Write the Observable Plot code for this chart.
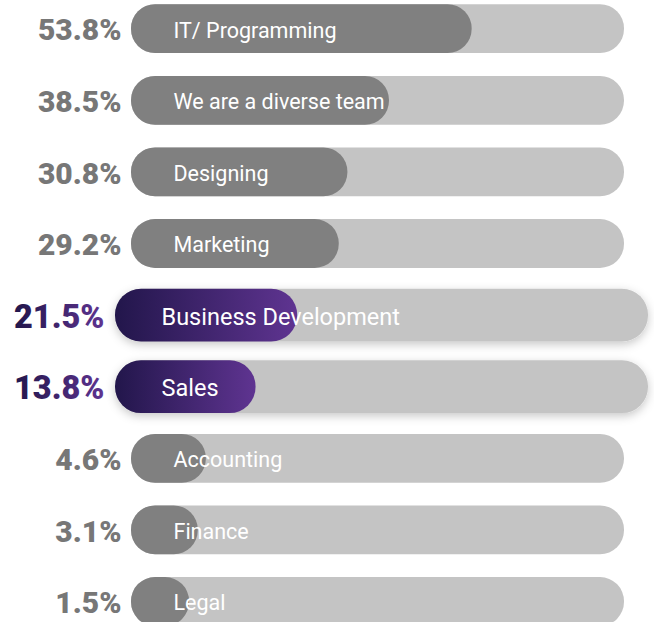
<!DOCTYPE html>
<html>
<head>
<meta charset="utf-8">
<script src="https://cdn.jsdelivr.net/npm/d3@7"></script>
<script src="https://cdn.jsdelivr.net/npm/@observablehq/plot@0.6"></script>
<style>
  html, body { margin: 0; padding: 0; background: #fff; }
</style>
</head>
<body>
<div id="chart"></div>
<script>
const categories = ["IT/ Programming", "We are a diverse team", "Designing", "Marketing", "Business Development", "Sales", "Accounting", "Finance", "Legal"];
const values = [53.8, 38.5, 30.8, 29.2, 21.5, 13.8, 4.6, 3.1, 1.5];
const highlighted = [false, false, false, false, true, true, false, false, false];
const trackMax = 82;

const rows = categories.map((c, i) => ({cat: c, value: values[i], hi: highlighted[i], label: values[i].toFixed(1) + "%"}));
const normal = rows.filter(d => !d.hi);
const hi = rows.filter(d => d.hi);

const chart = Plot.plot({
  width: 654,
  height: 622,
  style: {fontFamily: "Roboto, 'Noto Sans', sans-serif", background: "white", overflow: "visible"},
  x: {domain: [0, trackMax], range: [181, 624], axis: null},
  y: {domain: categories, range: [-7.1, 637.3], paddingInner: 0.318, paddingOuter: 0.159, round: false, axis: null},
  marks: [
    Plot.barX(normal, {x1: () => 0, x2: () => trackMax, y: "cat", fill: "#c4c4c4", rx: 24, insetLeft: -50}),
    Plot.barX(hi, {x1: () => 0, x2: () => trackMax, y: "cat", fill: "#c4c4c4", rx: 26, insetLeft: -66, insetRight: -24, insetTop: -2, insetBottom: -2, ariaDescription: "hi-track"}),
    Plot.barX(normal, {x1: () => 0, x2: "value", y: "cat", fill: "#808080", rx: 24, insetLeft: -50}),
    Plot.barX(hi, {x1: () => 0, x2: "value", y: "cat", fill: "url(#pgrad)", rx: 26, insetLeft: -66, insetTop: -2, insetBottom: -2}),
    Plot.text(normal, {x: () => 0, y: "cat", text: "cat", dx: -8, dy: 1.5, textAnchor: "start", fill: "white", fontSize: 21.5, fontWeight: 400}),
    Plot.text(hi, {x: () => 0, y: "cat", text: "cat", dx: -20, dy: 1.5, textAnchor: "start", fill: "white", fontSize: 23.5, fontWeight: 400}),
    Plot.text(normal, {x: () => 0, y: "cat", text: "label", dx: -60, dy: 1.5, textAnchor: "end", fill: "#777777", fontSize: 30, fontWeight: 900}),
    Plot.text(hi, {x: () => 0, y: "cat", text: "label", dx: -77, dy: 1.5, textAnchor: "end", fill: "url(#pgrad)", fontSize: 32.5, fontWeight: 900})
  ]
});

const defs = d3.select(chart).insert("defs", ":first-child");
const g = defs.append("linearGradient").attr("id", "pgrad").attr("x1", "0%").attr("x2", "100%").attr("y1", "0%").attr("y2", "0%");
g.append("stop").attr("offset", "0%").attr("stop-color", "#22164b");
g.append("stop").attr("offset", "100%").attr("stop-color", "#5f3491");
const f = defs.append("filter").attr("id", "shadow").attr("x", "-10%").attr("y", "-40%").attr("width", "120%").attr("height", "180%");
f.append("feDropShadow").attr("dx", 0).attr("dy", 3).attr("stdDeviation", 5).attr("flood-color", "#000").attr("flood-opacity", 0.22);
d3.select(chart).selectAll("g[aria-description='hi-track']").attr("filter", "url(#shadow)");

document.getElementById("chart").appendChild(chart);
</script>
</body>
</html>
